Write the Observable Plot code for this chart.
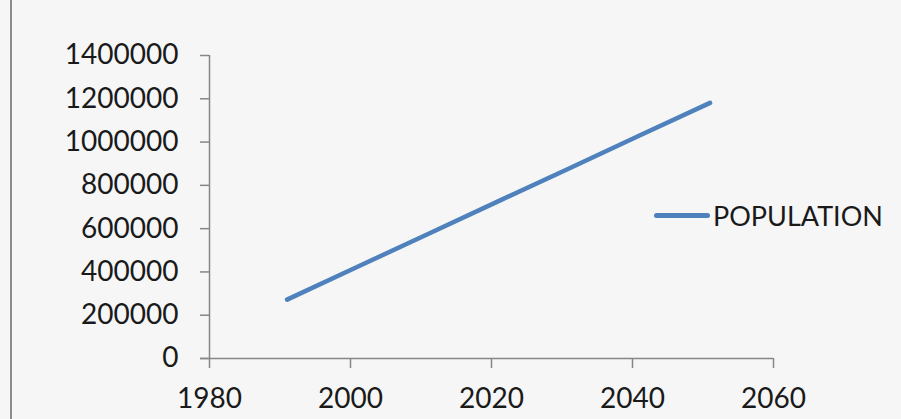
<!DOCTYPE html>
<html>
<head>
<meta charset="utf-8">
<script src="https://cdn.jsdelivr.net/npm/d3@7"></script>
<script src="https://cdn.jsdelivr.net/npm/@observablehq/plot@0.6"></script>
<style>
  html, body { margin: 0; padding: 0; background: #f6f6f6; }
  #wrap { position: relative; width: 901px; height: 419px; overflow: hidden; font-family: Lato, "Open Sans", sans-serif; }
  #frame { position: absolute; left: 10px; top: 0; width: 2px; height: 419px; background: #8c8c8c; }
  #legend { position: absolute; left: 654px; top: 199px; display: flex; align-items: center; font-size: 27px; color: #1a1a1a; }
  #legend .sw { width: 56px; height: 5px; border-radius: 3px; background: #4f81bd; margin-right: 3px; }
</style>
</head>
<body>
<div id="wrap"><div id="frame"></div><div id="chart"></div><div id="legend"><span class="sw"></span><span>POPULATION</span></div></div>
<script>
const seriesName = "POPULATION";
const years = [1991, 2001, 2011, 2021, 2031, 2041, 2051];
const population = [272000, 424000, 575000, 727000, 878000, 1030000, 1181000];
const xTicks = [1980, 2000, 2020, 2040, 2060];
const yTicks = [0, 200000, 400000, 600000, 800000, 1000000, 1200000, 1400000];

const data = years.map((y, i) => ({year: y, value: population[i]}));
const axisColor = "#868686";

const chart = Plot.plot({
  width: 901,
  height: 419,
  marginLeft: 209,
  marginRight: 128,
  marginTop: 55,
  marginBottom: 61,
  style: { background: "transparent", fontFamily: "Lato, 'Open Sans', sans-serif", fontSize: "28px", color: "#1a1a1a" },
  x: { domain: [1980, 2060], ticks: xTicks, tickFormat: d => String(d), label: null },
  y: { domain: [0, 1400000], ticks: yTicks, tickFormat: d => String(d), label: null },
  marks: [
    Plot.axisY({ ticks: yTicks, tickFormat: d => String(d), tickSize: 9, tickPadding: 22, stroke: axisColor, strokeWidth: 1.5, color: "#1a1a1a", label: null, strokeOpacity: 1 }),
    Plot.axisX({ ticks: xTicks, tickFormat: d => String(d), tickSize: 10, tickPadding: 20, stroke: axisColor, strokeWidth: 1.5, label: null, strokeOpacity: 1 }),
    Plot.ruleX([1980], { stroke: axisColor, strokeWidth: 1.5 }),
    Plot.ruleY([0], { stroke: axisColor, strokeWidth: 1.5, x1: 1980, x2: 2060, insetLeft: -9 }),
    Plot.line(data, { x: "year", y: "value", stroke: "#4f81bd", strokeWidth: 4.5, strokeLinecap: "round", strokeLinejoin: "round" })
  ]
});
document.getElementById("chart").appendChild(chart);
</script>
</body>
</html>
